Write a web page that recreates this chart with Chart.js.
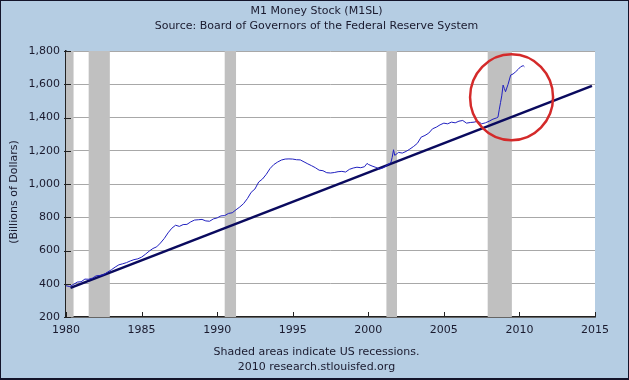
<!DOCTYPE html>
<html>
<head>
<meta charset="utf-8">
<script src="https://cdn.jsdelivr.net/npm/chart.js@4"></script>
<style>
  body { margin: 0; background: #b5cde3; }
  canvas { display: block; }
</style>
</head>
<body>
<canvas id="m1" width="629" height="380"></canvas>
<script>
// M1 money stock, billions of dollars
const m1Dates = [
  1980.00, 1980.25, 1980.50, 1980.75, 1981.00, 1981.25, 1981.50, 1981.75,
  1982.00, 1982.25, 1982.50, 1982.75, 1983.00, 1983.25, 1983.50, 1983.75,
  1984.00, 1984.25, 1984.50, 1984.75, 1985.00, 1985.25, 1985.50, 1985.75,
  1986.00, 1986.25, 1986.50, 1986.75, 1987.00, 1987.25, 1987.50, 1987.75,
  1988.00, 1988.25, 1988.50, 1988.75, 1989.00, 1989.25, 1989.50, 1989.75,
  1990.00, 1990.25, 1990.50, 1990.75, 1991.00, 1991.25, 1991.50, 1991.75,
  1992.00, 1992.25, 1992.50, 1992.75, 1993.00, 1993.25, 1993.50, 1993.75,
  1994.00, 1994.25, 1994.50, 1994.75, 1995.00, 1995.25, 1995.50, 1995.75,
  1996.00, 1996.25, 1996.50, 1996.75, 1997.00, 1997.25, 1997.50, 1997.75,
  1998.00, 1998.25, 1998.50, 1998.75, 1999.00, 1999.25, 1999.50, 1999.75, 1999.92,
  2000.00, 2000.25, 2000.50, 2000.75,
  2001.00, 2001.25, 2001.50, 2001.58, 2001.67, 2001.75, 2001.92,
  2002.00, 2002.25, 2002.50, 2002.75, 2003.00, 2003.25, 2003.50, 2003.75,
  2004.00, 2004.25, 2004.50, 2004.75, 2005.00, 2005.25, 2005.50, 2005.75,
  2006.00, 2006.25, 2006.50, 2006.75, 2007.00, 2007.25, 2007.50, 2007.75,
  2008.00, 2008.25, 2008.50, 2008.58, 2008.67, 2008.75, 2008.83, 2008.92,
  2009.00, 2009.08, 2009.25, 2009.42, 2009.58, 2009.75, 2009.92,
  2010.08, 2010.25, 2010.33
];
const m1Values = [
  388, 383, 396, 410, 412, 428, 427, 434,
  448, 450, 455, 470, 484, 500, 514, 520,
  527, 537, 545, 550, 560, 577, 596, 612,
  622, 645, 672, 706, 734, 752, 745, 756,
  757, 772, 783, 785, 787, 778, 776, 790,
  796, 808, 810, 823, 827, 845, 862, 882,
  912, 950, 970, 1012, 1030, 1058, 1093, 1117,
  1132, 1144, 1150, 1151, 1150, 1146, 1145, 1133,
  1121, 1110, 1098, 1083, 1080, 1068, 1066, 1069,
  1074, 1076, 1072, 1088, 1096, 1101, 1098, 1104, 1124,
  1118, 1108, 1100, 1090,
  1098, 1113, 1130, 1160, 1206, 1172, 1184,
  1190, 1186, 1196, 1210, 1226, 1245, 1282, 1292,
  1306, 1332, 1342, 1356, 1366, 1362, 1372, 1368,
  1378, 1382, 1366, 1370, 1372, 1378, 1362, 1368,
  1378, 1390, 1398, 1402, 1450, 1490, 1530, 1595,
  1575, 1555, 1600, 1655, 1662, 1675, 1690,
  1705, 1712, 1705
];

// straight trend line drawn on the chart
const trendDates = [1980.3, 2014.8];
const trendValues = [375, 1590];

// recessions [start, end]
const recessionStarts = [1980.0, 1981.5, 1990.5, 2001.2, 2007.9];
const recessionEnds = [1980.5, 1982.9, 1991.25, 2001.9, 2009.5];

// red circle marking the recent jump (centre in data units)
const circleX = 2009.48;
const circleY = 1522;

const xTicks = [1980, 1985, 1990, 1995, 2000, 2005, 2010, 2015];
const titleLines = ['M1 Money Stock (M1SL)', 'Source: Board of Governors of the Federal Reserve System'];
const footLines = ['Shaded areas indicate US recessions.', '2010 research.stlouisfed.org'];
const yTitle = '(Billions of Dollars)';

const FONT = '11px "DejaVu Sans"';
const TXT = '#1a1a2e';

const fredLook = {
  id: 'fredLook',
  beforeDraw(chart) {
    const { ctx, chartArea: a } = chart;
    ctx.save();
    ctx.fillStyle = '#b5cde3';
    ctx.fillRect(0, 0, chart.width, chart.height);
    ctx.fillStyle = '#ffffff';
    ctx.fillRect(a.left, a.top, a.right - a.left, a.bottom - a.top);
    ctx.restore();
  },
  beforeDatasetsDraw(chart) {
    const { ctx, chartArea: a, scales: { x } } = chart;
    ctx.save();
    ctx.fillStyle = '#c0c0c0';
    recessionStarts.forEach((s, i) => {
      const x0 = x.getPixelForValue(s);
      const x1 = x.getPixelForValue(recessionEnds[i]);
      ctx.fillRect(x0, a.top, x1 - x0, a.bottom - a.top);
    });
    ctx.restore();
  },
  afterDatasetsDraw(chart) {
    const { ctx, scales: { x, y } } = chart;
    ctx.save();
    ctx.strokeStyle = '#d42a2a';
    ctx.lineWidth = 2.5;
    ctx.beginPath();
    ctx.ellipse(x.getPixelForValue(circleX), y.getPixelForValue(circleY), 41.5, 43, 0, 0, Math.PI * 2);
    ctx.stroke();
    ctx.restore();
  },
  afterDraw(chart) {
    const { ctx, chartArea: a, scales: { x, y } } = chart;
    ctx.save();
    // axis tick marks
    ctx.strokeStyle = '#222';
    ctx.lineWidth = 1;
    xTicks.forEach(v => {
      const px = Math.round(x.getPixelForValue(v)) + 0.5;
      ctx.beginPath();
      ctx.moveTo(px, a.bottom);
      ctx.lineTo(px, a.bottom - 5);
      ctx.stroke();
    });
    y.ticks.forEach(t => {
      const py = Math.round(y.getPixelForValue(t.value)) + 0.5;
      ctx.beginPath();
      ctx.moveTo(a.left - 2, py);
      ctx.lineTo(a.left + 5, py);
      ctx.stroke();
    });
    // texts
    ctx.fillStyle = TXT;
    ctx.font = FONT;
    ctx.textAlign = 'center';
    ctx.textBaseline = 'middle';
    const cx = chart.width / 2 + 2;
    ctx.fillText(titleLines[0], cx, 11);
    ctx.fillText(titleLines[1], cx, 26);
    ctx.fillText(footLines[0], cx, 352);
    ctx.fillText(footLines[1], cx, 367);
    ctx.translate(14, 192);
    ctx.rotate(-Math.PI / 2);
    ctx.fillText(yTitle, 0, 0);
    ctx.restore();
    // frame
    ctx.save();
    ctx.strokeStyle = '#14142a';
    ctx.lineWidth = 1;
    ctx.strokeRect(0.5, 0.5, chart.width - 1, chart.height - 1);
    ctx.fillStyle = '#14142a';
    ctx.fillRect(0, chart.height - 2, chart.width, 2);
    ctx.restore();
  }
};

new Chart(document.getElementById('m1'), {
  type: 'line',
  data: {
    datasets: [
      {
        data: m1Dates.map((d, i) => ({ x: d, y: m1Values[i] })),
        borderColor: '#2020c0',
        borderWidth: 1,
        pointRadius: 0,
        tension: 0
      },
      {
        data: trendDates.map((d, i) => ({ x: d, y: trendValues[i] })),
        borderColor: '#0a0a5e',
        borderWidth: 2.6,
        pointRadius: 0
      }
    ]
  },
  options: {
    responsive: false,
    animation: false,
    layout: { padding: { top: 51, right: 34, bottom: 0, left: 0 } },
    plugins: { legend: { display: false }, tooltip: { enabled: false }, title: { display: false } },
    scales: {
      x: {
        type: 'linear',
        min: 1980,
        max: 2015,
        afterFit(s) { s.height = 63; },
        afterBuildTicks(s) { s.ticks = xTicks.map(v => ({ value: v })); },
        grid: { display: false, drawTicks: false },
        border: { color: '#222', width: 1.5 },
        ticks: { color: TXT, font: { family: 'DejaVu Sans', size: 11 }, padding: 7, maxRotation: 0, callback: v => String(v) }
      },
      y: {
        min: 200,
        max: 1800,
        afterFit(s) { s.width = 66; },
        grid: { color: '#a8a8a8', lineWidth: 1, drawTicks: false },
        border: { color: '#222', width: 1.5 },
        ticks: {
          stepSize: 200, color: TXT, padding: 6,
          font: { family: 'DejaVu Sans', size: 11 },
          callback: v => v.toLocaleString('en-US')
        }
      }
    }
  },
  plugins: [fredLook]
});
</script>
</body>
</html>
